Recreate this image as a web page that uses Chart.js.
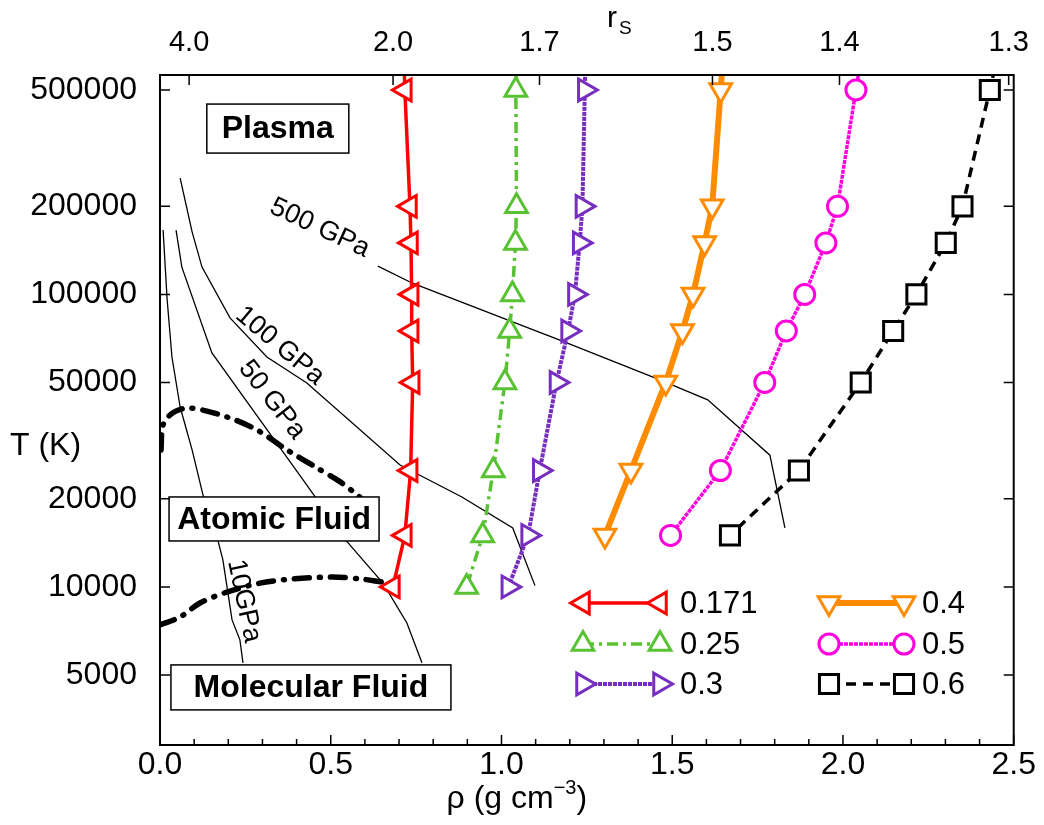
<!DOCTYPE html>
<html>
<head>
<meta charset="utf-8">
<script src="https://cdn.jsdelivr.net/npm/chart.js@4/dist/chart.umd.min.js"></script>
<style>
  html, body { margin: 0; padding: 0; background: #fff; }
  canvas { display: block; }
</style>
</head>
<body>
<canvas id="chart" width="1044" height="825"></canvas>
<script>
const FONT = "'Liberation Sans', Arial, Helvetica, sans-serif";

// run temperatures (K); the first one sits above the frame, it only carries the line out
const tRuns = [1000000, 500000, 200000, 150000, 100000, 75000, 50000, 25000, 15000, 10000];

// density (g/cm3) of each run, one array per series
const rho0171 = [0.710, 0.717, 0.732, 0.735, 0.737, 0.737, 0.740, 0.734, 0.717, 0.682];
const rho025  = [1.050, 1.042, 1.044, 1.041, 1.032, 1.024, 1.010, 0.976, 0.945, 0.898];
const rho03   = [1.250, 1.244, 1.237, 1.229, 1.215, 1.195, 1.161, 1.112, 1.078, 1.020];
const rho04   = [1.660, 1.642, 1.617, 1.595, 1.561, 1.530, 1.481, 1.379, 1.303];
const rho05   = [2.080, 2.038, 1.984, 1.950, 1.888, 1.834, 1.771, 1.641, 1.495];
const rho06   = [2.490, 2.430, 2.350, 2.301, 2.215, 2.147, 2.052, 1.871, 1.669];

const seriesNames = ["0.171", "0.25", "0.3", "0.4", "0.5", "0.6"];

// isobars
const iso500Rho = [0.638, 0.741, 1.171, 1.464, 1.604, 1.786, 1.830];
const iso500T   = [125000, 109000, 69800, 51000, 43600, 28200, 15900];
const iso100Rho = [0.059, 0.094, 0.123, 0.205, 0.313, 0.430, 0.703, 0.884, 1.033, 1.098];
const iso100T   = [250000, 163500, 124000, 83100, 61100, 49800, 26100, 20300, 15900, 10100];
const iso50Rho  = [0.047, 0.064, 0.152, 0.419, 0.547, 0.653, 0.723, 0.767];
const iso50T    = [166000, 124000, 63100, 23200, 14300, 10300, 7530, 5500];
const iso10Rho  = [0.009, 0.021, 0.035, 0.059, 0.094, 0.126, 0.167, 0.184, 0.211, 0.234, 0.243];
const iso10T    = [166000, 95700, 61100, 41200, 29400, 20600, 14800, 12400, 7710, 6590, 5500];

// phase boundaries
const upperRho = [0.003, 0.009, 0.038, 0.088, 0.196, 0.284, 0.372, 0.460, 0.527, 0.585];
const upperT   = [29400, 35800, 39400, 40900, 38100, 34400, 29400, 25500, 22900, 20300];
const lowerRho = [0.000, 0.059, 0.117, 0.196, 0.293, 0.389, 0.507, 0.585, 0.650];
const lowerT   = [7410, 7890, 8810, 9600, 10300, 10650, 10800, 10650, 10400];

// axes
const rhoTicks = [0, 0.5, 1.0, 1.5, 2.0, 2.5];
const tTicks = [5000, 10000, 20000, 50000, 100000, 200000, 500000];
const rsTicks = [4.0, 2.0, 1.7, 1.5, 1.4, 1.3];
const RS_CONST = 5.46; // rho = RS_CONST / rs^3
const T_MIN = 2880, T_MAX = 562600;

const pts = (xs, ys) => xs.map((x, i) => ({ x, y: ys[i] }));

const styles = [
  { color: "#ff0000", width: 3.5, dash: [],            shape: "triangle", rot: 270, r: 12.5 },
  { color: "#58c233", width: 3.5, dash: [11, 5, 3, 5], shape: "triangle", rot: 0,   r: 12.5 },
  { color: "#762ebf", width: 4,   dash: [4, 1],        shape: "triangle", rot: 90,  r: 12.5 },
  { color: "#ff8c00", width: 6,   dash: [],            shape: "triangle", rot: 180, r: 12.5 },
  { color: "#ff00dd", width: 3.5, dash: [4, 1],        shape: "circle",   rot: 0,   r: 10 },
  { color: "#000000", width: 3.5, dash: [10, 7],       shape: "rect",     rot: 0,   r: 13.5 }
];

const seriesRho = [rho0171, rho025, rho03, rho04, rho05, rho06];

const datasets = seriesRho.map((rho, k) => {
  const s = styles[k];
  return {
    label: seriesNames[k],
    data: pts(rho, tRuns.slice(0, rho.length)),
    borderColor: s.color,
    borderWidth: s.width,
    borderDash: s.dash,
    pointStyle: s.shape,
    pointRotation: s.rot,
    pointRadius: rho.map((_, i) => (i === 0 ? 0 : s.r)),
    pointBorderColor: s.color,
    pointBackgroundColor: "#ffffff",
    pointBorderWidth: 3,
    tension: 0
  };
});

const thin = (rho, t) => ({
  data: pts(rho, t), borderColor: "#000", borderWidth: 1.3, pointRadius: 0, tension: 0
});
const bound = (rho, t) => ({
  data: pts(rho, t), borderColor: "#000", borderWidth: 5.5, borderDash: [15, 10, 1, 10],
  borderCapStyle: "round", pointRadius: 0, tension: 0.3
});

datasets.push(thin(iso500Rho, iso500T), thin(iso100Rho, iso100T),
  thin(iso50Rho, iso50T), thin(iso10Rho, iso10T),
  bound(upperRho, upperT), bound(lowerRho, lowerT));

// text annotations placed in data coordinates
const isobarLabels = [
  { text: "500 GPa", rho: 0.468, t: 168700, angle: 25 },
  { text: "100 GPa", rho: 0.351, t: 66700, angle: 40 },
  { text: "50 GPa", rho: 0.328, t: 43600, angle: 52 },
  { text: "10GPa", rho: 0.246, t: 8950, angle: 78 }
];
const phaseBoxes = [
  { text: "Plasma", rho: 0.345, t: 369000, w: 142, h: 49 },
  { text: "Atomic Fluid", rho: 0.334, t: 17070, w: 210, h: 44 },
  { text: "Molecular Fluid", rho: 0.442, t: 4532, w: 280, h: 45 }
];

// legend layout (pixels)
const legendCols = [{ x: 583, dx: 77, tx: 97 }, { x: 829, dx: 75, tx: 93 }];
const legendRows = [603, 644, 684];

function marker(ctx, s, x, y) {
  ctx.save();
  ctx.strokeStyle = s.color;
  ctx.fillStyle = "#fff";
  ctx.lineWidth = 3;
  ctx.setLineDash([]);
  ctx.beginPath();
  if (s.shape === "circle") {
    ctx.arc(x, y, s.r, 0, Math.PI * 2);
  } else if (s.shape === "rect") {
    const h = s.r * Math.SQRT1_2;
    ctx.rect(x - h, y - h, 2 * h, 2 * h);
  } else {
    let a = s.rot * Math.PI / 180;
    for (let i = 0; i < 3; i++) {
      const px = x + Math.sin(a) * s.r, py = y - Math.cos(a) * s.r;
      i ? ctx.lineTo(px, py) : ctx.moveTo(px, py);
      a += 2 * Math.PI / 3;
    }
    ctx.closePath();
  }
  ctx.fill();
  ctx.stroke();
  ctx.restore();
}

const decor = {
  id: "decor",
  afterDatasetsDraw(chart) {
    const ctx = chart.ctx, xs = chart.scales.x, ys = chart.scales.y;
    ctx.save();
    ctx.fillStyle = "#000";
    ctx.textAlign = "center";
    ctx.textBaseline = "middle";

    ctx.font = "27px " + FONT;
    isobarLabels.forEach(l => {
      ctx.save();
      ctx.translate(xs.getPixelForValue(l.rho), ys.getPixelForValue(l.t));
      ctx.rotate(l.angle * Math.PI / 180);
      ctx.fillText(l.text, 0, 0);
      ctx.restore();
    });

    ctx.font = "bold 32px " + FONT;
    phaseBoxes.forEach(b => {
      const cx = xs.getPixelForValue(b.rho), cy = ys.getPixelForValue(b.t);
      ctx.fillStyle = "#fff";
      ctx.fillRect(cx - b.w / 2, cy - b.h / 2, b.w, b.h);
      ctx.strokeStyle = "#000";
      ctx.lineWidth = 1.5;
      ctx.strokeRect(cx - b.w / 2, cy - b.h / 2, b.w, b.h);
      ctx.fillStyle = "#000";
      ctx.fillText(b.text, cx, cy + 1);
    });

    // legend, two columns of three
    ctx.font = "31px " + FONT;
    ctx.textAlign = "left";
    styles.forEach((s, k) => {
      const col = legendCols[Math.floor(k / 3)], y = legendRows[k % 3];
      ctx.save();
      ctx.strokeStyle = s.color;
      ctx.lineWidth = s.width;
      ctx.setLineDash(s.dash);
      ctx.beginPath();
      ctx.moveTo(col.x, y);
      ctx.lineTo(col.x + col.dx, y);
      ctx.stroke();
      ctx.restore();
      marker(ctx, s, col.x, y);
      marker(ctx, s, col.x + col.dx, y);
      ctx.fillStyle = "#000";
      ctx.fillText(seriesNames[k], col.x + col.tx, y + 1);
    });
    ctx.restore();
  },
  afterDraw(chart) {
    const ctx = chart.ctx, a = chart.chartArea;
    const xs = chart.scales.x, x2 = chart.scales.x2, ys = chart.scales.y;
    ctx.save();
    ctx.strokeStyle = "#000";
    ctx.lineWidth = 1.5;
    ctx.beginPath();
    for (let i = 0; i <= 25; i++) {
      const px = xs.getPixelForValue(i / 10);
      ctx.moveTo(px, a.bottom);
      ctx.lineTo(px, a.bottom - (i % 5 === 0 ? 10 : 6));
    }
    x2.ticks.forEach(t => {
      const px = x2.getPixelForValue(t.value);
      ctx.moveTo(px, a.top);
      ctx.lineTo(px, a.top + 10);
    });
    ys.ticks.forEach(t => {
      const py = ys.getPixelForValue(t.value);
      ctx.moveTo(a.left, py); ctx.lineTo(a.left + 10, py);
      ctx.moveTo(a.right, py); ctx.lineTo(a.right - 10, py);
    });
    ctx.stroke();
    ctx.lineWidth = 2;
    ctx.strokeRect(a.left, a.top, a.right - a.left, a.bottom - a.top);

    // axis titles
    ctx.fillStyle = "#000";
    ctx.textBaseline = "alphabetic";
    ctx.textAlign = "left";
    ctx.font = "32px " + FONT;
    ctx.fillText("T (K)", 10, 455);

    ctx.font = "30px " + FONT;
    ctx.fillText("r", 607, 27);
    ctx.font = "19px " + FONT;
    ctx.fillText("S", 619, 34);

    const big = "32px " + FONT, small = "20px " + FONT;
    const p1 = "\u03c1 (g cm", p2 = "\u22123", p3 = ")";
    ctx.font = big; const w1 = ctx.measureText(p1).width, w3 = ctx.measureText(p3).width;
    ctx.font = small; const w2 = ctx.measureText(p2).width;
    let x0 = (a.left + a.right) / 2 - (w1 + w2 + w3) / 2 - 70;
    const yb = 808;
    ctx.font = big; ctx.fillText(p1, x0, yb);
    ctx.font = small; ctx.fillText(p2, x0 + w1, yb - 14);
    ctx.font = big; ctx.fillText(p3, x0 + w1 + w2, yb);
    ctx.restore();
  }
};

const tickFont = { family: FONT, size: 32 };

new Chart(document.getElementById("chart"), {
  type: "line",
  data: { datasets },
  plugins: [decor],
  options: {
    responsive: false,
    animation: false,
    events: [],
    layout: { padding: { left: 0, right: 30, top: 0, bottom: 0 } },
    plugins: { legend: { display: false }, tooltip: { enabled: false } },
    scales: {
      x: {
        type: "linear", position: "bottom", min: 0, max: 2.5,
        grid: { display: false, drawTicks: false }, border: { display: false },
        afterBuildTicks: s => { s.ticks = rhoTicks.map(v => ({ value: v })); },
        ticks: { color: "#000", font: tickFont, padding: 1, autoSkip: false, maxRotation: 0,
          callback: v => v.toFixed(1) },
        afterFit: s => { s.height = 80; }
      },
      x2: {
        type: "linear", position: "top", min: 0, max: 2.5,
        grid: { display: false, drawTicks: false }, border: { display: false },
        afterBuildTicks: s => { s.ticks = rsTicks.map(r => ({ value: RS_CONST / (r * r * r) })); },
        ticks: { color: "#000", font: { family: FONT, size: 29 }, padding: 15, autoSkip: false,
          maxRotation: 0, callback: (v, i) => rsTicks[i].toFixed(1) },
        afterFit: s => { s.height = 75; }
      },
      y: {
        type: "logarithmic", position: "left", min: T_MIN, max: T_MAX,
        grid: { display: false, drawTicks: false }, border: { display: false },
        afterBuildTicks: s => { s.ticks = tTicks.map(v => ({ value: v })); },
        ticks: { color: "#000", font: tickFont, padding: 23, autoSkip: false,
          callback: v => String(v) },
        afterFit: s => { s.width = 160; }
      }
    }
  }
});
</script>
</body>
</html>
